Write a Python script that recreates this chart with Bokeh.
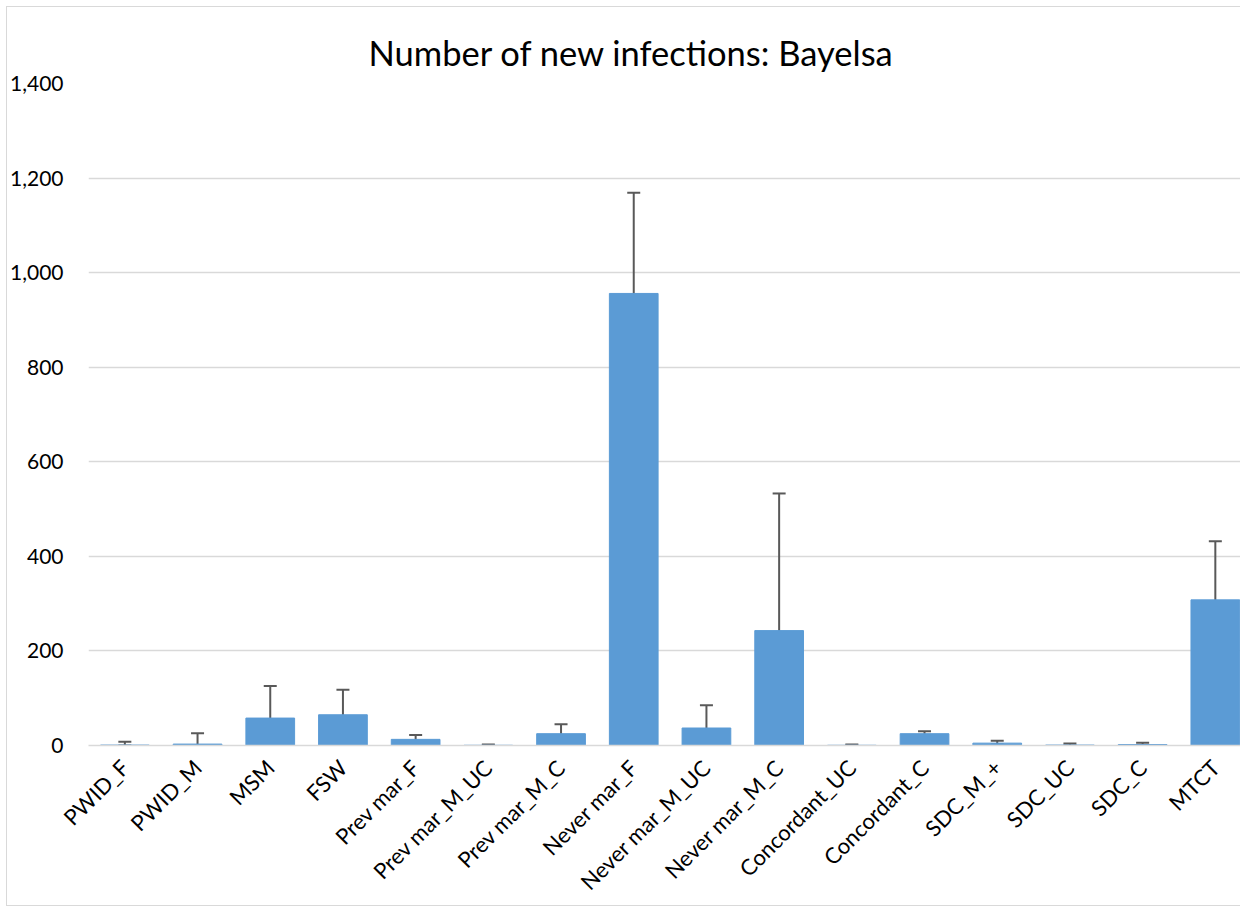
import math
from bokeh.plotting import figure
from bokeh.models import (ColumnDataSource, Range1d, FixedTicker, NumeralTickFormatter,
                          Whisker, TeeHead)
from bokeh.embed import file_html
from bokeh.resources import INLINE

categories = ["PWID_F", "PWID_M", "MSM", "FSW", "Prev mar_F", "Prev mar_M_UC",
              "Prev mar_M_C", "Never mar_F", "Never mar_M_UC", "Never mar_M_C",
              "Concordant_UC", "Concordant_C", "SDC_M_+", "SDC_UC", "SDC_C", "MTCT"]
values = [1, 3, 58, 65, 13, 0.5, 25, 956, 37, 243, 0.5, 25, 5, 1, 2, 308]
lower = [0, 0, 19, 28, 8, 0, 13, 654, 9, 68, 0, 20, 2, 0, 1, 182]
upper = [8, 26, 126, 118, 22, 2, 45, 1169, 85, 533, 2, 30, 10, 4, 6, 432]
y_ticks = [0, 200, 400, 600, 800, 1000, 1200, 1400]
title_text = "Number of new infections: Bayelsa"

FONT = "Lato"
idx = list(range(len(categories)))
src = ColumnDataSource(dict(x=idx, top=values, lower=lower, upper=upper))

p = figure(width=1234, height=900, output_backend="svg", toolbar_location=None,
           x_range=Range1d(-0.5, 15.36), y_range=Range1d(0, 1400),
           min_border_left=81, min_border_right=0, min_border_top=76, min_border_bottom=162)
p.styles = {"margin-left": "6px", "margin-top": "6px",
            "border-left": "1px solid #d9d9d9", "border-top": "1px solid #d9d9d9",
            "border-bottom": "1px solid #d9d9d9"}
p.outline_line_color = None
p.background_fill_color = "white"
p.border_fill_color = "white"

p.title.text = title_text
p.title.align = "left"
p.title.offset = 280
p.title.text_font = FONT
p.title.text_font_size = "34.5px"
p.title.text_font_style = "normal"
p.title.text_color = "#000000"
p.title.standoff = 22

p.vbar(x="x", top="top", width=0.67, bottom=0, source=src,
       fill_color="#5B9BD5", line_color="#5B9BD5")

w = Whisker(source=src, base="x", upper="upper", lower="lower",
            line_color="#595959", line_width=2,
            upper_head=TeeHead(size=13, line_color="#595959", line_width=2),
            lower_head=TeeHead(size=13, line_color="#595959", line_width=2))
p.add_layout(w)

# axes
p.xaxis.ticker = FixedTicker(ticks=idx)
p.xaxis.major_label_overrides = {i: c for i, c in enumerate(categories)}
p.xaxis.major_label_orientation = math.pi / 4
p.xaxis.major_label_text_font = FONT
p.xaxis.major_label_text_font_size = "22px"
p.xaxis.major_label_text_color = "#000000"
p.xaxis.major_label_standoff = 12
p.xaxis.axis_line_color = "#d9d9d9"
p.xaxis.axis_line_width = 1.5
p.xaxis.major_tick_line_color = None
p.xaxis.minor_tick_line_color = None

p.yaxis.ticker = FixedTicker(ticks=y_ticks)
p.yaxis.formatter = NumeralTickFormatter(format="0,0")
p.yaxis.major_label_text_font = FONT
p.yaxis.major_label_text_font_size = "21px"
p.yaxis.major_label_text_color = "#000000"
p.yaxis.major_label_standoff = 19
p.yaxis.axis_line_color = None
p.yaxis.major_tick_line_color = None
p.yaxis.minor_tick_line_color = None

p.xgrid.grid_line_color = None
p.ygrid.grid_line_color = "#d9d9d9"
p.ygrid.grid_line_width = 1.5

open("out.html", "w").write(file_html(p, INLINE))
